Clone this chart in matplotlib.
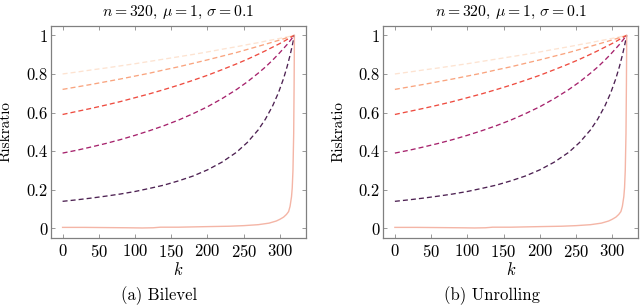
import matplotlib
matplotlib.use("Agg")
import matplotlib.pyplot as plt

plt.rcParams['font.family'] = 'serif'
plt.rcParams['font.serif'] = ['cmr10']
plt.rcParams['mathtext.fontset'] = 'cm'
plt.rcParams['axes.unicode_minus'] = False
plt.rcParams['axes.formatter.use_mathtext'] = True
plt.rcParams['lines.scale_dashes'] = False

# ---- data ----
k_vals = [0, 20, 40, 60, 80, 100, 120, 140, 160, 180, 200, 220, 240, 255,
          270, 280, 290, 298, 305, 310, 314, 317, 320]
curve_a = [0.800, 0.810, 0.821, 0.831, 0.842, 0.853, 0.865, 0.877, 0.889, 0.901,
           0.914, 0.928, 0.941, 0.952, 0.962, 0.970, 0.977, 0.983, 0.988, 0.992,
           0.995, 0.998, 1.000]
curve_b = [0.720, 0.733, 0.746, 0.760, 0.774, 0.789, 0.804, 0.821, 0.837, 0.855,
           0.873, 0.892, 0.911, 0.927, 0.943, 0.954, 0.965, 0.974, 0.982, 0.988,
           0.993, 0.996, 1.000]
curve_c = [0.590, 0.606, 0.622, 0.639, 0.657, 0.677, 0.697, 0.719, 0.742, 0.767,
           0.793, 0.822, 0.852, 0.876, 0.902, 0.920, 0.939, 0.954, 0.968, 0.979,
           0.987, 0.994, 1.000]
curve_d = [0.390, 0.405, 0.422, 0.440, 0.460, 0.482, 0.506, 0.532, 0.561, 0.594,
           0.630, 0.672, 0.719, 0.759, 0.804, 0.836, 0.872, 0.903, 0.932, 0.953,
           0.972, 0.986, 1.000]
curve_e = [0.140, 0.148, 0.157, 0.167, 0.178, 0.191, 0.207, 0.224, 0.246, 0.271,
           0.303, 0.343, 0.394, 0.445, 0.510, 0.566, 0.635, 0.703, 0.776, 0.839,
           0.897, 0.946, 1.000]
dashed_curves = [curve_a, curve_b, curve_c, curve_d, curve_e]

solid_k = [0, 30, 60, 90, 110, 125, 135, 160, 200, 230, 250, 270, 285, 295,
           300, 305, 309, 312, 314, 316, 317, 318, 319, 319.6, 320]
solid_v = [0.005, 0.005, 0.004, 0.003, 0.002, 0.003, 0.006, 0.006, 0.009, 0.011,
           0.014, 0.019, 0.027, 0.038, 0.047, 0.058, 0.072, 0.087, 0.114, 0.164,
           0.21, 0.30, 0.49, 0.75, 1.0]

titles = [r'$n = 320$, $\mu = 1$, $\sigma = 0.1$',
          r'$n = 320$, $\mu = 1$, $\sigma = 0.1$']
captions = ['(a) Bilevel', '(b) Unrolling']
x_ticks = [0, 50, 100, 150, 200, 250, 300]
y_ticks = [0, 0.2, 0.4, 0.6, 0.8, 1]
y_ticklabels = ['0', '0.2', '0.4', '0.6', '0.8', '1']

dash_colors = ['#fde3d1', '#f9a47f', '#ee4c40', '#a6226c', '#4d2152']
solid_color = '#f3ad9c'

W, H = 640, 305
fig = plt.figure(figsize=(W / 100, H / 100), dpi=100)

ax_lefts = [51, 383.3]
ax_w, ax_top, ax_bot = 255, 25.7, 238
cap_x = [159, 492]

for i in range(2):
    ax = fig.add_axes([ax_lefts[i] / W, (H - ax_bot) / H, ax_w / W, (ax_bot - ax_top) / H])
    for vals, col in zip(dashed_curves, dash_colors):
        ax.plot(k_vals, vals, color=col, lw=0.95, dashes=(3.6, 2.2))
    ax.plot(solid_k, solid_v, color=solid_color, lw=1.0, alpha=0.9)
    ax.set_xlim(-16, 336)
    ax.set_ylim(-0.05, 1.05)
    ax.set_xticks(x_ticks)
    ax.set_yticks(y_ticks)
    ax.set_yticklabels(y_ticklabels)
    ax.tick_params(direction='in', length=3.2, width=0.6, color='#888888',
                   top=True, right=True, labelsize=12)
    ax.tick_params(axis='y', pad=2.5)
    ax.tick_params(axis='x', pad=3.5)
    for s in ax.spines.values():
        s.set_color('#808080')
        s.set_linewidth(0.9)
    ax.set_title(titles[i], fontsize=11.3, pad=7)
    ax.set_xlabel(r'$k$', fontsize=12, labelpad=0.5)
    ax.set_ylabel('Riskratio', fontsize=11)
    ax.yaxis.set_label_coords(-0.15, 0.5)
    fig.text(cap_x[i] / W, 1 - 295.5 / H, captions[i], fontsize=12,
             ha='center', va='center')

fig.savefig('out.png', dpi=100)
